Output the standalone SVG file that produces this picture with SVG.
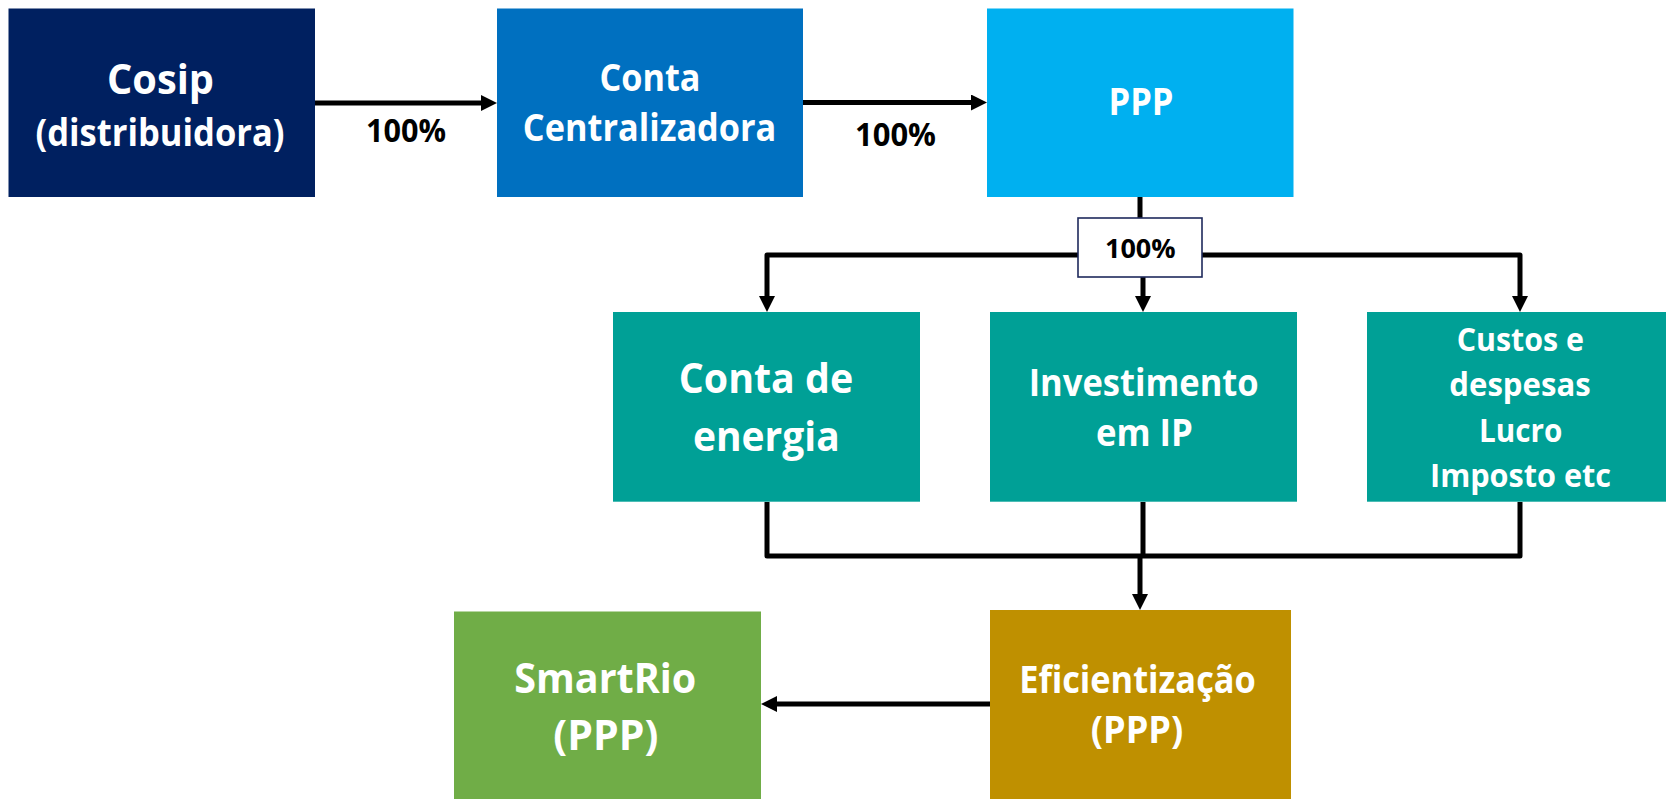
<svg xmlns="http://www.w3.org/2000/svg" width="1666" height="799" viewBox="0 0 1666 799">
<style>
.t{font-family:"Open Sans","Noto Sans","Liberation Sans",sans-serif;font-weight:bold;fill:#fff;text-anchor:middle}
.k{font-family:"Open Sans","Noto Sans","Liberation Sans",sans-serif;font-weight:bold;fill:#000;text-anchor:middle}
.L{font-size:42px}.M{font-size:37px}.S{font-size:33px}
.c{fill:none;stroke:#000;stroke-width:5;stroke-linejoin:round}
</style>
<defs>
<marker id="ah" viewBox="0 0 16 16" refX="4" refY="8" markerWidth="16" markerHeight="16" markerUnits="userSpaceOnUse" orient="auto">
<path d="M0,0 L16,8 L0,16 z" fill="#000"/>
</marker>
</defs>
<rect width="1666" height="799" fill="#fff"/>
<g id="connectors">
<path class="c" d="M315,103 H485" marker-end="url(#ah)"/>
<path class="c" d="M803,102.5 H975" marker-end="url(#ah)"/>
<path class="c" d="M1140,197 V218"/>
<path class="c" d="M1140,255 H767 V300" marker-end="url(#ah)"/>
<path class="c" d="M1140,255 H1520 V300" marker-end="url(#ah)"/>
<path class="c" d="M1143,277 V300" marker-end="url(#ah)"/>
<path class="c" d="M767,502 V556 H1520 V502"/>
<path class="c" d="M1143,502 V556"/>
<path class="c" d="M1140,556 V598" marker-end="url(#ah)"/>
<path class="c" d="M990,704 H773" marker-end="url(#ah)"/>
<text class="k" x="406" y="142" font-size="32" textLength="80" lengthAdjust="spacingAndGlyphs">100%</text>
<text class="k" x="895.5" y="146" font-size="32" textLength="81" lengthAdjust="spacingAndGlyphs">100%</text>
</g>
<g id="label100">
<rect x="1078" y="218" width="124" height="59" fill="#fff" stroke="#1f2a5c" stroke-width="1.6"/>
<text class="k" x="1140.3" y="257.7" font-size="27" textLength="70.7" lengthAdjust="spacingAndGlyphs">100%</text>
</g>
<g id="cosip">
<rect x="8.5" y="8.5" width="306.5" height="188.5" fill="#002060"/>
<text class="t L" x="160.5" y="94" textLength="107" lengthAdjust="spacingAndGlyphs">Cosip</text>
<text class="t M" x="160" y="146" textLength="249" lengthAdjust="spacingAndGlyphs">(distribuidora)</text>
</g>
<g id="conta-centralizadora">
<rect x="497" y="8.5" width="306" height="188.5" fill="#0070c0"/>
<text class="t M" x="650" y="91" textLength="101" lengthAdjust="spacingAndGlyphs">Conta</text>
<text class="t M" x="649.6" y="141" textLength="253.5" lengthAdjust="spacingAndGlyphs">Centralizadora</text>
</g>
<g id="ppp">
<rect x="987" y="8.5" width="306.5" height="188.5" fill="#00b0f0"/>
<text class="t M" x="1141" y="115" textLength="65" lengthAdjust="spacingAndGlyphs">PPP</text>
</g>
<g id="conta-energia">
<rect x="613" y="312" width="307" height="189.7" fill="#00a096"/>
<text class="t L" x="766" y="393.3" textLength="174.5" lengthAdjust="spacingAndGlyphs">Conta de</text>
<text class="t L" x="766.3" y="450.7" textLength="146.8" lengthAdjust="spacingAndGlyphs">energia</text>
</g>
<g id="investimento">
<rect x="990" y="312" width="307" height="189.7" fill="#00a096"/>
<text class="t M" x="1143.7" y="395.7" textLength="230" lengthAdjust="spacingAndGlyphs">Investimento</text>
<text class="t M" x="1144.4" y="445.7" textLength="97" lengthAdjust="spacingAndGlyphs">em IP</text>
</g>
<g id="custos">
<rect x="1367" y="312" width="306" height="189.7" fill="#00a096"/>
<text class="t S" x="1520.3" y="350.7" textLength="127.3" lengthAdjust="spacingAndGlyphs">Custos e</text>
<text class="t S" x="1520" y="395.7" textLength="141.3" lengthAdjust="spacingAndGlyphs">despesas</text>
<text class="t S" x="1520.6" y="442" textLength="83.3" lengthAdjust="spacingAndGlyphs">Lucro</text>
<text class="t S" x="1520.5" y="486.7" textLength="181" lengthAdjust="spacingAndGlyphs">Imposto etc</text>
</g>
<g id="smartrio">
<rect x="454" y="611.5" width="307" height="187.5" fill="#70ad47"/>
<text class="t L" x="605.3" y="693.3" textLength="182" lengthAdjust="spacingAndGlyphs">SmartRio</text>
<text class="t L" x="605.8" y="750" textLength="105" lengthAdjust="spacingAndGlyphs">(PPP)</text>
</g>
<g id="eficientizacao">
<rect x="990" y="610" width="301" height="189" fill="#bf9000"/>
<text class="t M" x="1137.5" y="693.3" textLength="236.7" lengthAdjust="spacingAndGlyphs">Eficientização</text>
<text class="t M" x="1137" y="743.3" textLength="92.6" lengthAdjust="spacingAndGlyphs">(PPP)</text>
</g>
</svg>
